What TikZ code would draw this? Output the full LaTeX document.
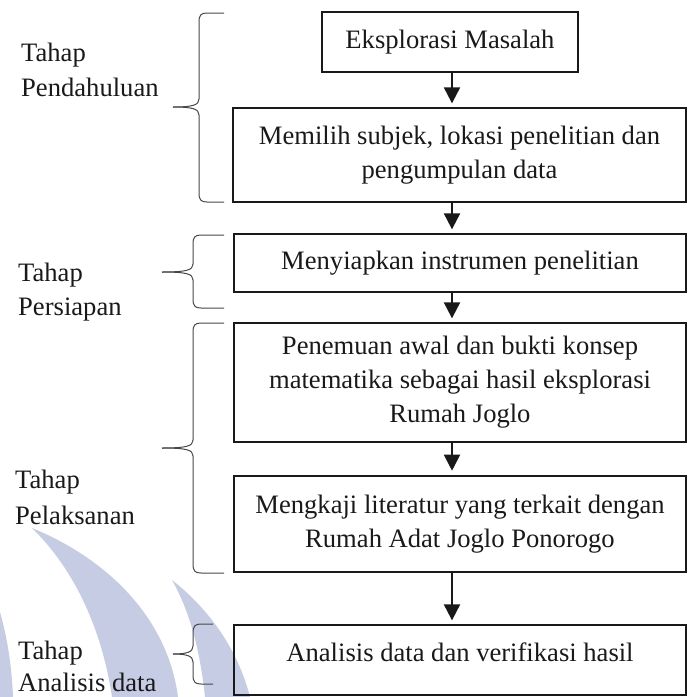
\documentclass[tikz,border=0pt]{standalone}
\usepackage{fontspec}
\setmainfont{Liberation Serif}
\usetikzlibrary{arrows.meta}
\definecolor{wm}{RGB}{198,204,228}
\definecolor{ink}{RGB}{25,25,25}
\tikzset{
  box/.style={draw=ink, line width=1.3pt, rectangle, inner sep=0pt, align=center,
    font=\fontsize{26.6}{34}\selectfont, text=ink},
  lbl/.style={anchor=base west, inner sep=0pt, font=\fontsize{26.6}{34}\selectfont, text=ink},
  arr/.style={draw=ink, line width=2pt, -{Triangle[width=16pt,length=16pt]}, shorten >=4pt},
  brace/.style={draw=ink!80, line width=1pt}
}
\newcommand{\mybrace}[6]{% xr, xv, xt, ytop, ymid, ybot
  \draw[brace] (#1,#4) -- ({#2+8},#4) .. controls ({#2+2},#4) and (#2,{#4+2}) .. (#2,{#4+9})
    -- (#2,{#5-8}) .. controls (#2,{#5-2}) and ({#2-6},#5) .. (#3,#5);
  \draw[brace] (#1,#6) -- ({#2+8},#6) .. controls ({#2+2},#6) and (#2,{#6-2}) .. (#2,{#6-9})
    -- (#2,{#5+8}) .. controls (#2,{#5+2}) and ({#2-6},#5) .. (#3,#5);
}
\begin{document}
\begin{tikzpicture}[x=1pt,y=-1pt]
\useasboundingbox (0,0) rectangle (694,697);
% watermark
\fill[wm] (32,528) .. controls (110,560) and (168,620) .. (178,697) -- (112,697)
  .. controls (102,630) and (75,570) .. (32,528) -- cycle;
\fill[wm] (172,580) .. controls (210,610) and (238,650) .. (250,697) -- (205,697)
  .. controls (200,650) and (190,612) .. (172,580) -- cycle;
\fill[wm] (0,612) .. controls (8,640) and (12,670) .. (13,697) -- (0,697) -- cycle;

% boxes
\node[box, minimum width=256pt, minimum height=60pt] (b1) at (450,42) {Eksplorasi Masalah};
\node[box, minimum width=453pt, minimum height=94pt] (b2) at (459.5,155)
  {Memilih subjek, lokasi penelitian dan\\pengumpulan data};
\node[box, minimum width=452pt, minimum height=58pt] (b3) at (460,263) {Menyiapkan instrumen penelitian};
\node[box, minimum width=452pt, minimum height=119pt] (b4) at (460,382.5)
  {Penemuan awal dan bukti konsep\\matematika sebagai hasil eksplorasi\\Rumah Joglo};
\node[box, line width=2.6pt, minimum width=452pt, minimum height=96pt] (b5) at (460,524)
  {Mengkaji literatur yang terkait dengan\\Rumah Adat Joglo Ponorogo};
\node[box, minimum width=452pt, text height=36pt, text depth=34pt] (b6) at (460,660)
  {Analisis data dan verifikasi hasil};

% arrows
\coordinate (ax) at (452,0);
\draw[arr] (b1.south -| ax) -- (b2.north -| ax);
\draw[arr] (b2.south -| ax) -- (b3.north -| ax);
\draw[arr] (b3.south -| ax) -- (b4.north -| ax);
\draw[arr] (b4.south -| ax) -- (b5.north -| ax);
\draw[arr] (b5.south -| ax) -- (b6.north -| ax);

% braces
\mybrace{224}{199}{173}{13}{107}{202}
\mybrace{224}{193}{162}{235}{272}{308}
\mybrace{224}{193}{162}{323}{448}{573}
\mybrace{213}{193}{173}{624}{654}{684}

% labels
\node[lbl] (l1a) at (21,61) {Tahap};
\node[lbl] (l1b) at (21,96) {Pendahuluan};
\node[lbl] (l2a) at (18,281) {Tahap};
\node[lbl] (l2b) at (18,315) {Persiapan};
\node[lbl] (l3a) at (15,488) {Tahap};
\node[lbl] (l3b) at (15,524) {Pelaksanan};
\node[lbl] (l4a) at (18,659) {Tahap};
\node[lbl] (l4b) at (18,691) {Analisis data};
\end{tikzpicture}
\end{document}
